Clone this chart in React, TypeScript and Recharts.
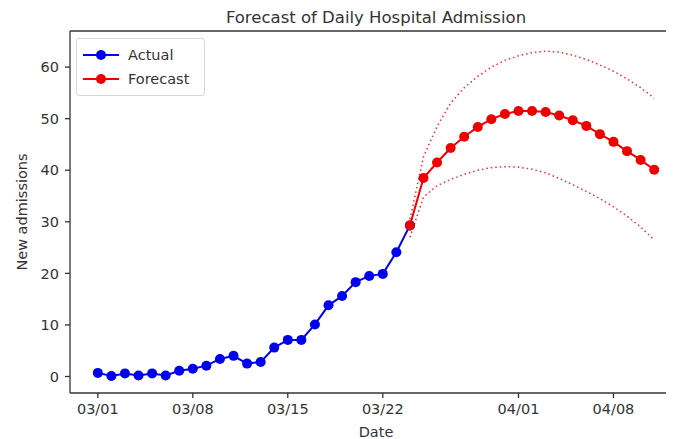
import React from 'react';
import { LineChart, Line, XAxis, YAxis, ReferenceLine } from 'recharts';

const dates = [
  '03/01', '03/02', '03/03', '03/04', '03/05', '03/06', '03/07', '03/08', '03/09', '03/10',
  '03/11', '03/12', '03/13', '03/14', '03/15', '03/16', '03/17', '03/18', '03/19', '03/20',
  '03/21', '03/22', '03/23', '03/24', '03/25', '03/26', '03/27', '03/28', '03/29', '03/30',
  '03/31', '04/01', '04/02', '04/03', '04/04', '04/05', '04/06', '04/07', '04/08', '04/09',
  '04/10', '04/11',
];

const actual = [
  0.7, 0.1, 0.6, 0.2, 0.6, 0.2, 1.1, 1.5, 2.1, 3.4, 4.0, 2.5, 2.8, 5.6, 7.1, 7.1,
  10.1, 13.8, 15.6, 18.3, 19.5, 19.9, 24.1, 29.3,
];

const forecastStart = '03/24';
const forecast = [
  29.3, 38.5, 41.5, 44.3, 46.5, 48.4, 49.9, 50.9, 51.5, 51.5, 51.3, 50.6, 49.7, 48.6,
  47.0, 45.5, 43.7, 42.0, 40.1,
];
const upper = [
  30.5, 42.6, 48.5, 53.0, 56.0, 58.2, 60.0, 61.3, 62.2, 62.8, 63.1, 62.9, 62.3, 61.5,
  60.4, 59.2, 57.7, 56.0, 54.0,
];
const lower = [
  27.0, 34.8, 37.0, 38.2, 39.2, 40.0, 40.5, 40.7, 40.6, 40.2, 39.5, 38.4, 37.2, 35.9,
  34.5, 32.9, 31.1, 29.0, 26.5,
];

const legendLabels = ['Actual', 'Forecast'];
const xTickLabels = ['03/01', '03/08', '03/15', '03/22', '04/01', '04/08'];
const yTicks = [0, 10, 20, 30, 40, 50, 60];

const fStart = dates.indexOf(forecastStart);
const pick = (arr: number[], i: number) =>
  i >= fStart && i - fStart < arr.length ? arr[i - fStart] : null;

const data = dates.map((d, i) => ({
  idx: i,
  date: d,
  actual: i < actual.length ? actual[i] : null,
  forecast: pick(forecast, i),
  upper: pick(upper, i),
  lower: pick(lower, i),
}));

const xTicks = xTickLabels.map((l) => dates.indexOf(l));
const n = dates.length - 1;
const xPad = n * 0.05;
const yDomain: [number, number] = [-3.2, 67];

const FONT = '"DejaVu Sans", sans-serif';
const BLUE = '#0000ee';
const RED = '#ee0000';
const AXIS = '#333333';
const TEXT = '#333333';
const FS = 14.5;

const LegendBox = () => {
  const colors = [BLUE, RED];
  return (
    <div
      style={{
        position: 'absolute',
        left: 68,
        top: 30,
        border: '1px solid #d8d8d8',
        borderRadius: 3,
        background: 'rgba(255,255,255,0.8)',
        padding: '4px 6px 4px 5px',
        fontFamily: FONT,
        fontSize: FS,
        color: TEXT,
        width: 116,
      }}
    >
      {legendLabels.map((label, k) => (
        <div key={label} style={{ display: 'flex', alignItems: 'center', height: 24 }}>
          <svg width={38} height={12} style={{ marginRight: 8 }}>
            <line x1={1} y1={6} x2={37} y2={6} stroke={colors[k]} strokeWidth={2} />
            <circle cx={19} cy={6} r={5} fill={colors[k]} />
          </svg>
          <span>{label}</span>
        </div>
      ))}
    </div>
  );
};

export default function App() {
  return (
    <div style={{ position: 'relative', width: 666, height: 431, overflow: 'hidden' }}>
      <div
        style={{
          position: 'absolute',
          top: 0,
          left: 0,
          width: 736,
          textAlign: 'center',
          fontFamily: FONT,
          fontSize: 16.5,
          color: TEXT,
        }}
      >
        Forecast of Daily Hospital Admission
      </div>
      <div
        style={{
          position: 'absolute',
          left: 14,
          top: 204,
          transform: 'translate(-50%, -50%) rotate(-90deg)',
          whiteSpace: 'nowrap',
          fontFamily: FONT,
          fontSize: FS,
          color: TEXT,
        }}
      >
        New admissions
      </div>
      <LineChart
        width={682}
        height={431}
        data={data}
        margin={{ top: 23, right: 8, bottom: 0, left: 0 }}
        style={{ fontFamily: FONT }}
      >
        <XAxis
          dataKey="idx"
          type="number"
          domain={[-xPad, n + xPad]}
          ticks={xTicks}
          tickFormatter={(v: number) => dates[v]}
          allowDataOverflow
          height={46}
          tickSize={5}
          tickMargin={6}
          stroke={AXIS}
          strokeWidth={1.3}
          tick={{ fill: TEXT, fontSize: FS }}
          label={{ value: 'Date', position: 'insideBottom', offset: 2, fill: TEXT, fontSize: FS }}
        />
        <YAxis
          type="number"
          domain={yDomain}
          ticks={yTicks}
          allowDataOverflow
          width={62}
          tickSize={5}
          tickMargin={6}
          stroke={AXIS}
          strokeWidth={1.3}
          tick={{ fill: TEXT, fontSize: FS }}
        />
        <ReferenceLine y={yDomain[1]} stroke={AXIS} strokeWidth={1.3} ifOverflow="visible" />
        <ReferenceLine x={n + xPad} stroke={AXIS} strokeWidth={1.3} ifOverflow="visible" />
        <Line
          dataKey="upper"
          type="linear"
          stroke="#e83030"
          strokeWidth={1.5}
          strokeDasharray="1.5 3"
          dot={false}
          isAnimationActive={false}
          legendType="none"
        />
        <Line
          dataKey="lower"
          type="linear"
          stroke="#e83030"
          strokeWidth={1.5}
          strokeDasharray="1.5 3"
          dot={false}
          isAnimationActive={false}
          legendType="none"
        />
        <Line
          dataKey="actual"
          name="Actual"
          type="linear"
          stroke={BLUE}
          strokeWidth={2}
          dot={{ r: 5, fill: BLUE, stroke: BLUE, strokeWidth: 0 }}
          isAnimationActive={false}
        />
        <Line
          dataKey="forecast"
          name="Forecast"
          type="linear"
          stroke={RED}
          strokeWidth={2}
          dot={{ r: 5, fill: RED, stroke: RED, strokeWidth: 0 }}
          isAnimationActive={false}
        />
      </LineChart>
      <LegendBox />
    </div>
  );
}
